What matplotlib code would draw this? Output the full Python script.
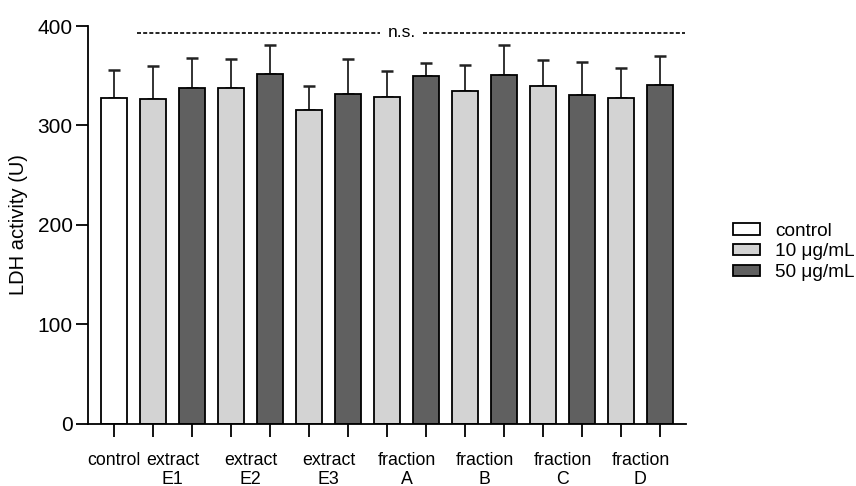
import numpy as np
import matplotlib.pyplot as plt
from matplotlib.patches import Patch

plt.rcParams['font.family'] = ['Liberation Sans', 'DejaVu Sans']

# --- LDH activity data (mean and SD) ---
groups = ['control', 'extract\nE1', 'extract\nE2', 'extract\nE3',
          'fraction\nA', 'fraction\nB', 'fraction\nC', 'fraction\nD']
bar_kind = ['control'] + ['10', '50'] * 7
means = [328, 327, 338, 338, 351.5, 316, 332, 329, 350,
         335, 350.5, 340, 331, 328, 341]
sds = [27.5, 33, 30, 29, 29.5, 24, 35, 26, 13,
       26, 30, 26, 33, 30, 29]
ns_level = 393

colors = {'control': 'white', '10': '#d3d3d3', '50': '#606060'}
labels = {'control': 'control', '10': '10 \u03bcg/mL', '50': '50 \u03bcg/mL'}

fig = plt.figure(figsize=(8.56, 4.86), dpi=100)
ax = fig.add_axes([0.1028, 0.1276, 0.6986, 0.8189])

x = np.arange(len(means))
ax.bar(x, means, width=0.65, color=[colors[k] for k in bar_kind],
       edgecolor='black', linewidth=1.3, zorder=2)
ax.errorbar(x, means, yerr=[np.zeros(len(sds)), sds], fmt='none',
            ecolor='#222222', elinewidth=1.3, capsize=4.3, capthick=1.8, zorder=1)

# n.s. bracket across all treated groups
dash = (0, (2.4, 1.3))
ax.plot([0.59, 6.82], [ns_level, ns_level], ls=dash, color='black',
        lw=1.2, clip_on=False)
ax.plot([7.92, 14.64], [ns_level, ns_level], ls=dash, color='black',
        lw=1.2, clip_on=False)
ax.text(7.38, ns_level, 'n.s.', ha='center', va='center', fontsize=12.5)

ax.set_xlim(-0.667, 14.67)
ax.set_ylim(0, 400)
ax.set_yticks([0, 100, 200, 300, 400])
ax.set_ylabel('LDH activity (U)', fontsize=14.5, labelpad=7)

# bar ticks without labels, group labels on minor ticks
ax.xaxis.remove_overlapping_locs = False
ax.set_xticks(x)
ax.set_xticklabels([])
centers = [0] + [1.5 + 2 * i for i in range(7)]
ax.set_xticks(centers, minor=True)
ax.set_xticklabels(groups, minor=True, fontsize=12.8, linespacing=1.15)
ax.tick_params(axis='x', which='minor', length=0, pad=20)
ax.tick_params(axis='both', which='major', length=9, width=1.3)
ax.tick_params(axis='y', labelsize=15, pad=2)

for side in ['top', 'right']:
    ax.spines[side].set_visible(False)
for side in ['left', 'bottom']:
    ax.spines[side].set_linewidth(1.3)

handles = [Patch(facecolor=colors[k], edgecolor='black', linewidth=1.3, label=labels[k])
           for k in ['control', '10', '50']]
fig.legend(handles=handles, loc='center left', bbox_to_anchor=(0.856, 0.4815),
           frameon=False, fontsize=13.7, handlelength=1.42, handleheight=0.55,
           handletextpad=0.8, labelspacing=0.2, borderpad=0, borderaxespad=0)

fig.savefig('out.png', dpi=100)
